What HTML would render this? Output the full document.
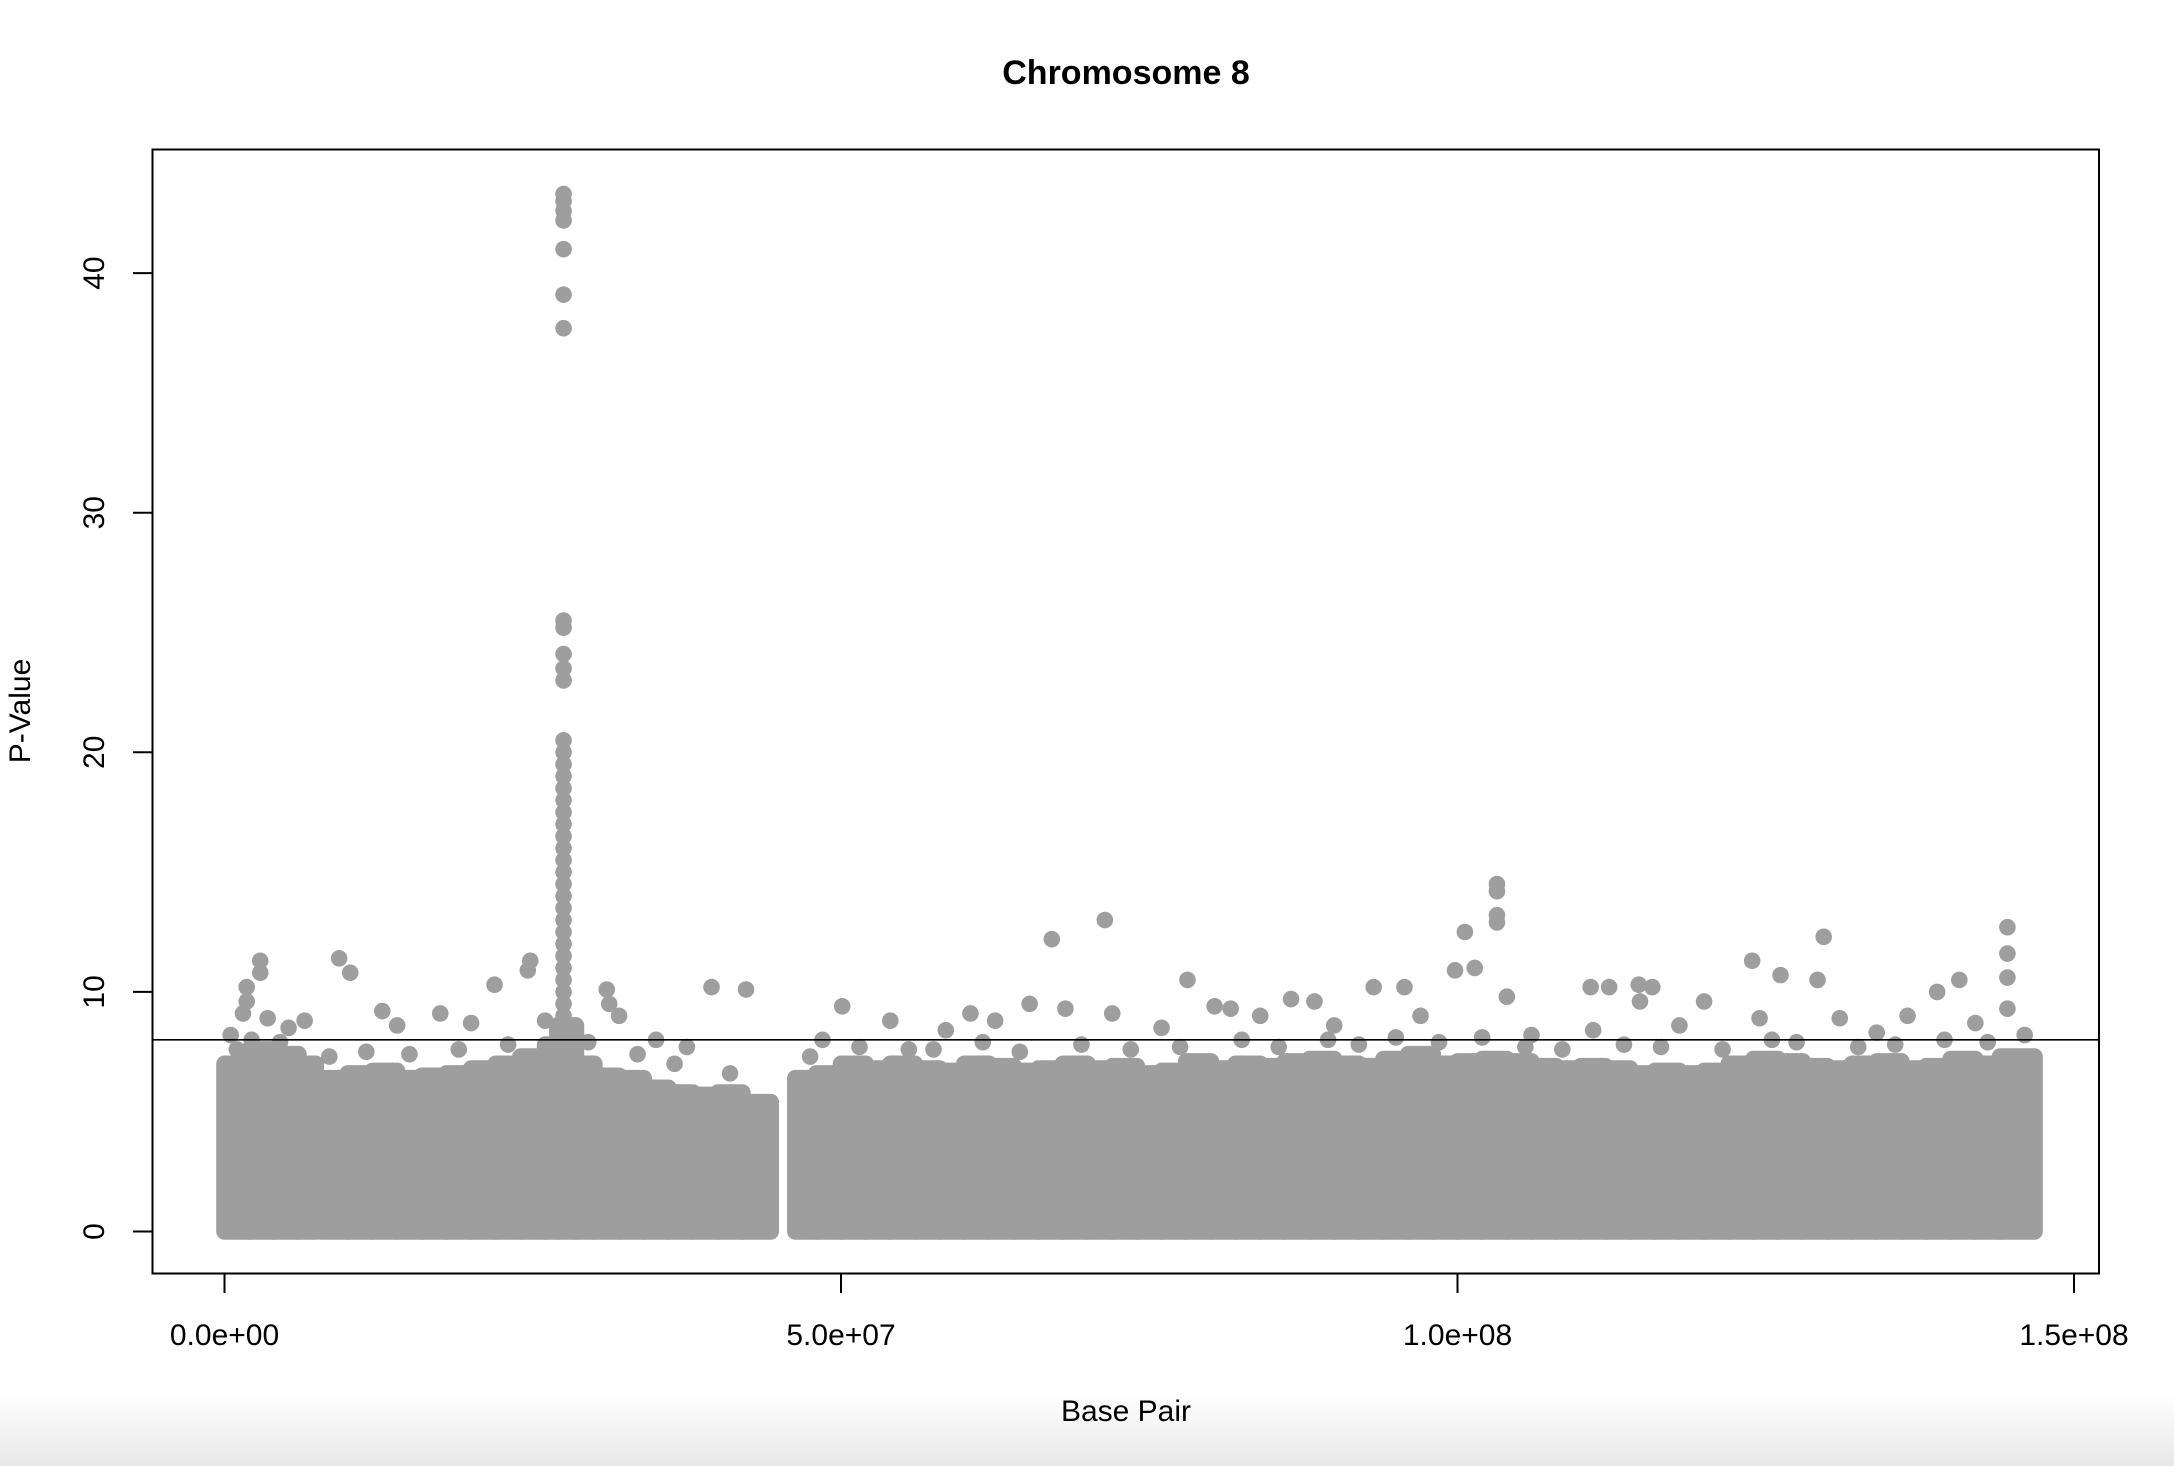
<!DOCTYPE html>
<html><head><meta charset="utf-8"><style>
html,body{margin:0;padding:0;background:#fff;}
body{width:2174px;height:1466px;overflow:hidden;position:relative;}
svg{position:absolute;left:0;top:0;}
text{font-family:"Liberation Sans",Arial,sans-serif;fill:#000;}
</style></head><body>
<svg id="chart" width="2174" height="1466">
<defs><linearGradient id="fade" x1="0" y1="0" x2="0" y2="1"><stop offset="0" stop-color="#fff"/><stop offset="1" stop-color="#e8e8e8"/></linearGradient></defs>
<rect x="0" y="1395" width="2174" height="71" fill="url(#fade)"/>
<g id="band"></g>
<g id="pts"></g>
<rect x="152.5" y="149.5" width="1946.5" height="1124" fill="none" stroke="#000" stroke-width="2"/>
<g id="axes"></g>
<text x="1126" y="84" font-size="34" font-weight="bold" text-anchor="middle">Chromosome 8</text>
<text x="1126" y="1421" font-size="30" text-anchor="middle">Base Pair</text>
<text x="0" y="0" font-size="30" text-anchor="middle" transform="translate(30,711) rotate(-90)">P-Value</text>
</svg>
<script>
// Data
const binStart = [0,2,4,6,7.8,10,12,14,16,18,20,22,24,26,27,28.5,30,32,34,36,38,40,42,
 46.3,48,50,52,54,56,58,60,62,64,66,68,70,72,74,76,78,80,82,84,86,88,90,92,94,96,98,100,102,104,106,108,110,112,114,116,118,120,122,124,126,128,130,132,134,136,138,140,142,144];
const binEnd = [2,4,6,7.4,10,12,14,16,18,20,22,24,26,27,28.5,30,32,34,36,38,40,42,44.3,
 48,50,52,54,56,58,60,62,64,66,68,70,72,74,76,78,80,82,84,86,88,90,92,94,96,98,100,102,104,106,108,110,112,114,116,118,120,122,124,126,128,130,132,134,136,138,140,142,144,146.8];
const binTop = [7.0,7.6,7.4,7.0,6.4,6.6,6.7,6.4,6.5,6.6,6.8,7.0,7.3,7.8,8.6,7.0,6.5,6.4,6.0,5.8,5.7,5.8,5.4,
 6.4,6.6,7.0,6.8,7.0,6.8,6.7,7.0,6.9,6.7,6.8,7.0,6.8,6.9,6.6,6.7,7.1,6.8,7.0,6.9,7.1,7.2,7.0,6.9,7.2,7.4,7.0,7.1,7.2,7.1,6.9,6.8,6.9,6.8,6.6,6.7,6.6,6.7,7.0,7.2,7.1,6.9,6.8,7.0,7.1,6.8,6.9,7.2,7.0,7.3];
const peakMb = 27.5;
const peakVals = [43.3,43.0,42.6,42.2,41.0,39.1,37.7,25.5,25.2,24.1,23.5,23.0,20.5,20.0,19.5,19.0,18.5,18.0,17.5,17.0,16.5,16.0,15.5,15.0,14.5,14.0,13.5,13.0,12.5,12.0,11.5,11.0,10.5,10.0,9.5,9.0,8.5,8.0];
const outMb = [2.9,2.9,1.8,1.8,1.5,9.3,10.2,21.9,24.8,24.6,31.0,31.2,39.5,42.3,50.1,67.1,71.4,65.3,68.2,78.1,80.3,81.6,86.5,88.4,93.2,95.7,99.8,100.6,101.4,103.2,103.2,103.2,103.2,104.0,110.8,112.3,114.7,115.8,114.8,120.0,123.9,126.2,129.7,129.2,138.9,140.7,144.6,144.6,144.6,144.6,
 0.5,3.5,5.2,6.5,12.8,14.0,17.5,20.0,26.0,32.0,35.0,37.5,48.5,54.0,58.5,60.5,62.5,72.0,76.0,84.0,90.0,97.0,106.0,111.0,118.0,124.5,131.0,134.0,136.5,142.0,
 1.0,2.2,4.5,8.5,11.5,15.0,19.0,23.0,29.5,33.5,36.5,41.0,47.5,51.5,55.5,57.5,61.5,64.5,69.5,73.5,77.5,82.5,85.5,89.5,92.0,95.0,98.5,102.0,105.5,108.5,113.5,116.5,121.5,125.5,127.5,132.5,135.5,139.5,143.0,146.0];
const outVal = [11.3,10.8,10.2,9.6,9.1,11.4,10.8,10.3,11.3,10.9,10.1,9.5,10.2,10.1,9.4,12.2,13.0,9.5,9.3,10.5,9.4,9.3,9.7,9.6,10.2,10.2,10.9,12.5,11.0,14.5,14.2,13.2,12.9,9.8,10.2,10.2,10.3,10.2,9.6,9.6,11.3,10.7,12.3,10.5,10.0,10.5,12.7,11.6,10.6,9.3,
 8.2,8.9,8.5,8.8,9.2,8.6,9.1,8.7,8.8,9.0,8.0,7.7,8.0,8.8,8.4,9.1,8.8,9.1,8.5,9.0,8.6,9.0,8.2,8.4,8.6,8.9,8.9,8.3,9.0,8.7,
 7.6,8.0,7.9,7.3,7.5,7.4,7.6,7.8,7.9,7.4,7.0,6.6,7.3,7.7,7.6,7.6,7.9,7.5,7.8,7.6,7.7,8.0,7.7,8.0,7.8,8.1,7.9,8.1,7.7,7.6,7.8,7.7,7.6,8.0,7.9,7.7,7.8,8.0,7.9,8.2];
const xTicks = [0,5e7,1e8,1.5e8];
const xTickLabels = ["0.0e+00","5.0e+07","1.0e+08","1.5e+08"];
const yTicks = [0,10,20,30,40];
const threshold = 8;

// Scales
const xs = mb => 224.5 + mb * 12.33;
const xsBp = bp => xs(bp / 1e6);
const ys = v => 1231.5 - v * 23.96;
const R = 8.3, COL = "#9e9e9e";
const NS = "http://www.w3.org/2000/svg";
function mk(tag, attrs, parent){const e=document.createElementNS(NS,tag);for(const k in attrs)e.setAttribute(k,attrs[k]);parent.appendChild(e);return e;}

const band = document.getElementById('band');
binStart.forEach((s,i)=>{
  const x0 = xs(s)-R, x1 = xs(binEnd[i])+R, yt = ys(binTop[i])-R, yb = ys(0)+R;
  const r = mk('rect',{x:x0,y:yt,width:x1-x0,height:yb-yt,rx:R,fill:COL},band);
  
  
});
const pts = document.getElementById('pts');
peakVals.forEach(v=>{
  const c = mk('circle',{cx:xs(peakMb),cy:ys(v),r:R,fill:COL},pts);
  
  
});
outMb.forEach((m,i)=>{
  const c = mk('circle',{cx:xs(m),cy:ys(outVal[i]),r:R,fill:COL},pts);
  
  
});

const axes = document.getElementById('axes');
const th = mk('line',{x1:152.5,x2:2099,y1:ys(threshold),y2:ys(threshold),stroke:"#000","stroke-width":1.6},axes);


mk('line',{x1:xsBp(xTicks[0]),x2:xsBp(xTicks[xTicks.length-1]),y1:1273.5,y2:1273.5,stroke:"#000","stroke-width":2},axes);
xTicks.forEach((t,i)=>{
  const x = xsBp(t);
  const l = mk('line',{x1:x,x2:x,y1:1273.5,y2:1293,stroke:"#000","stroke-width":2},axes);
  
  
  const tx = mk('text',{x:x,y:1345,"font-size":30,"text-anchor":"middle"},axes);
  tx.textContent = xTickLabels[i];
  
  
});
mk('line',{x1:152.5,x2:152.5,y1:ys(0),y2:ys(40),stroke:"#000","stroke-width":2},axes);
yTicks.forEach(t=>{
  const y = ys(t);
  const l = mk('line',{x1:133,x2:152.5,y1:y,y2:y,stroke:"#000","stroke-width":2},axes);
  
  
  const tx = mk('text',{x:0,y:0,"font-size":30,"text-anchor":"middle",transform:`translate(104,${y}) rotate(-90)`},axes);
  tx.textContent = t;
  
  
});
</script>
</body></html>
